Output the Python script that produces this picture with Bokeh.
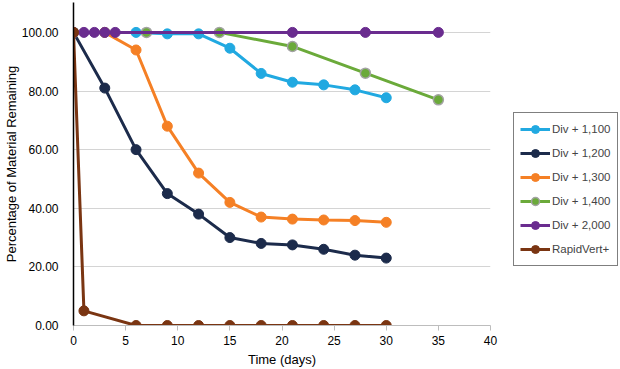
from bokeh.plotting import figure
from bokeh.models import (Range1d, FixedTicker, NumeralTickFormatter, Legend, LegendItem)
from bokeh.embed import file_html
from bokeh.resources import INLINE

# ---- data ----
x_1100 = [0, 3, 6, 9, 12, 15, 18, 21, 24, 27, 30]
y_1100 = [100, 100, 100, 99.5, 99.5, 94.6, 86, 83, 82.1, 80.4, 77.7]

x_1200 = [0, 3, 6, 9, 12, 15, 18, 21, 24, 27, 30]
y_1200 = [100, 81, 60, 45, 38, 30, 28, 27.5, 26, 24, 23]

x_1300 = [0, 3, 6, 9, 12, 15, 18, 21, 24, 27, 30]
y_1300 = [100, 100, 94, 68, 52, 42, 37, 36.3, 36, 35.8, 35.2]

x_1400 = [0, 7, 14, 21, 28, 35]
y_1400 = [100, 100, 100, 95.2, 86.1, 77]

x_2000 = [0, 1, 2, 3, 4, 21, 28, 35]
y_2000 = [100, 100, 100, 100, 100, 100, 100, 100]

x_rv = [0, 1, 6, 9, 12, 15, 18, 21, 24, 27, 30]
y_rv = [100, 5, 0, 0, 0, 0, 0, 0, 0, 0, 0]

labels = ["Div + 1,100", "Div + 1,200", "Div + 1,300", "Div + 1,400", "Div + 2,000", "RapidVert+"]
x_ticks = [0, 5, 10, 15, 20, 25, 30, 35, 40]
y_ticks = [0, 20, 40, 60, 80, 100]

FONT = "Liberation Sans"

p = figure(frame_width=417, frame_height=323, output_backend="svg", toolbar_location=None,
           x_range=Range1d(0, 40), y_range=Range1d(0, 110.2),
           min_border_left=0, min_border_top=2, min_border_bottom=0, min_border_right=0)
p.outline_line_color = None
p.background_fill_color = "white"

p.xgrid.grid_line_color = None
p.ygrid.grid_line_color = "#D4D4D4"
p.ygrid.grid_line_width = 1.2
p.ygrid.ticker = FixedTicker(ticks=[20, 40, 60, 80, 100])

p.xaxis.ticker = FixedTicker(ticks=x_ticks)
p.xaxis.axis_line_color = "#BDBDBD"
p.xaxis.axis_line_width = 1.2
p.xaxis.major_tick_line_color = "#BDBDBD"
p.xaxis.major_tick_out = 5
p.xaxis.major_tick_in = 0
p.xaxis.minor_tick_line_color = None
p.xaxis.axis_label = "Time (days)"
p.xaxis.axis_label_standoff = 4

p.yaxis.ticker = FixedTicker(ticks=y_ticks)
p.yaxis.formatter = NumeralTickFormatter(format="0.00")
p.yaxis.axis_line_color = "black"
p.yaxis.axis_line_width = 1.5
p.yaxis.major_tick_line_color = None
p.yaxis.minor_tick_line_color = None
p.yaxis.major_label_standoff = 9
p.yaxis.axis_label = "Percentage of Material Remaining"
p.yaxis.axis_label_standoff = 0

for ax in (p.xaxis, p.yaxis):
    ax.major_label_text_font = FONT
    ax.major_label_text_font_size = "12px"
    ax.major_label_text_color = "black"
    ax.axis_label_text_font = FONT
    ax.axis_label_text_font_size = "13px"
    ax.axis_label_text_font_style = "normal"
    ax.axis_label_text_color = "black"

series = [
    (x_1100, y_1100, "#21A9E1", "#21A9E1"),
    (x_1200, y_1200, "#1C2B4B", "#1C2B4B"),
    (x_1300, y_1300, "#F58025", "#F58025"),
    (x_1400, y_1400, "#6BAA3A", "#A3A3A3"),
    (x_2000, y_2000, "#6A2C8F", "#6A2C8F"),
    (x_rv, y_rv, "#7A3512", "#7A3512"),
]

items = []
for (xs, ys, col, mline), lab in zip(series, labels):
    r1 = p.line(xs, ys, line_color=col, line_width=3)
    r2 = p.scatter(xs, ys, marker="circle", size=10, fill_color=col,
                   line_color=mline, line_width=1.5 if mline != col else 1)
    items.append(LegendItem(label=lab, renderers=[r1, r2]))

legend = Legend(items=items, location=(23, 59))
legend.label_text_font = FONT
legend.label_text_font_size = "11.5px"
legend.label_standoff = 2
legend.glyph_width = 30
legend.glyph_height = 20
legend.spacing = 4
legend.padding = 6
legend.margin = 0
legend.border_line_color = "black"
legend.border_line_width = 1
legend.background_fill_alpha = 1
p.add_layout(legend, "right")

open("out.html", "w").write(file_html(p, INLINE))
